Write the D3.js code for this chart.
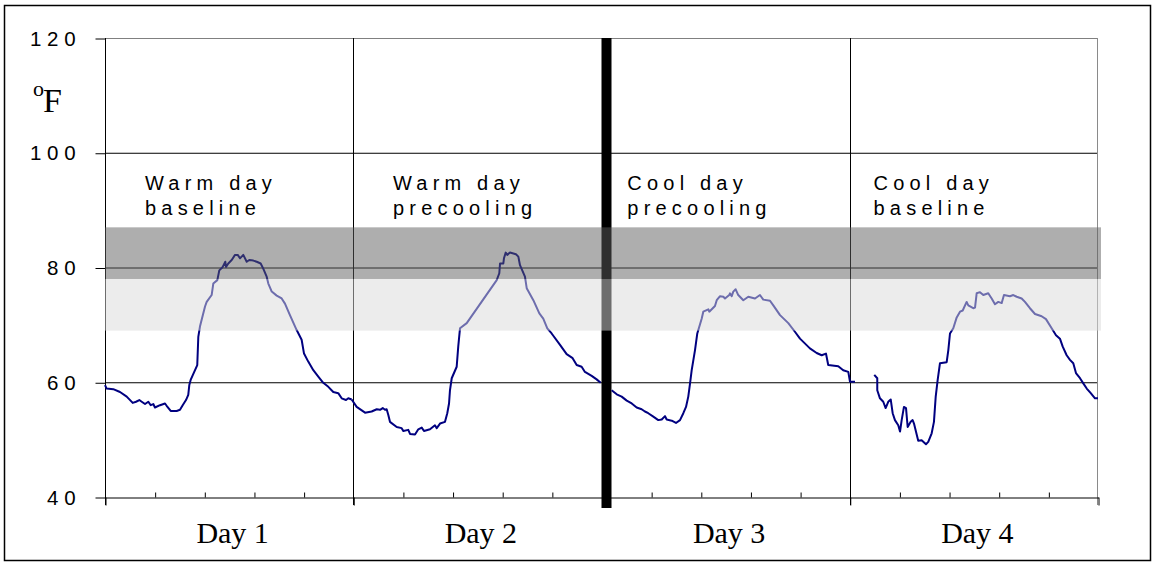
<!DOCTYPE html>
<html>
<head>
<meta charset="utf-8">
<script src="https://cdn.jsdelivr.net/npm/d3@7"></script>
<style>
  body { margin: 0; background: #fff; }
  svg { display: block; }
</style>
</head>
<body>
<script>
// Screen dimensions.
const WIDTH = 1154;
const HEIGHT = 563;

// Plot area
const LEFT = 105, RIGHT = 1098, TOP = 38, BOTTOM = 497;

// Axis values
const yTicks = [40, 60, 80, 100, 120];
const dayLabels = ["Day 1", "Day 2", "Day 3", "Day 4"];
const dayNotes = [["Warm day", "baseline"], ["Warm day", "precooling"], ["Cool day", "precooling"], ["Cool day", "baseline"]];

// Comfort bands (deg F)
const bandDark = [78, 87];
const bandLight = [69, 78];

// Temperature readings: hour since start of day 1, deg F
const day1Hours = [0, 0.16, 0.8, 1.45, 2.1, 2.68, 3.0, 3.32, 3.55, 3.87, 4.19, 4.42, 4.67, 4.83, 5.32, 5.8, 5.96, 6.35, 6.93, 7.25, 7.51, 7.83, 8.05, 8.15, 8.28, 8.92, 9.02, 9.18, 9.67, 9.83, 10.31, 10.47, 10.86, 11.05, 11.38, 11.63, 11.7, 11.92, 12.25, 12.57, 12.83, 13.05, 13.37, 13.7, 13.95, 14.34, 14.67, 15.05, 15.3, 15.63, 15.79, 16.12, 16.6, 17.08, 17.4, 17.88, 18.53, 19.01, 19.24, 19.65, 20.14, 20.62, 21.1, 21.59, 22.07, 22.55, 22.88, 23.3, 23.52, 23.85];
const day1Temps = [59.5, 58.9, 58.8, 58.3, 57.5, 56.4, 56.6, 56.9, 56.6, 56.2, 56.6, 56.0, 56.2, 55.6, 56.0, 56.3, 55.9, 55.0, 55.0, 55.2, 56.0, 56.9, 57.8, 59.5, 60.4, 63.0, 67.9, 69.7, 73.2, 74.0, 75.2, 77.2, 77.8, 79.5, 80.1, 81.0, 80.1, 80.7, 81.3, 82.2, 82.2, 81.6, 82.2, 81.0, 81.3, 81.2, 81.0, 80.7, 79.8, 78.4, 77.2, 75.8, 75.1, 74.6, 73.7, 71.7, 69.1, 67.4, 65.0, 63.6, 62.1, 61.0, 59.9, 59.2, 58.3, 58.1, 57.2, 56.9, 57.2, 57.0];

const day2Hours = [23.85, 24.33, 25.14, 25.78, 26.27, 26.59, 26.85, 27.07, 27.23, 27.39, 27.55, 28.2, 28.68, 28.84, 29.32, 29.49, 29.97, 30.29, 30.62, 30.84, 31.42, 31.9, 32.07, 32.39, 32.87, 33.09, 33.26, 33.35, 33.52, 34.0, 34.15, 34.32, 34.97, 37.87, 38.12, 38.19, 38.51, 38.57, 38.74, 38.89, 39.15, 39.73, 39.96, 40.12, 40.6, 40.77, 41.41, 41.99, 42.37, 42.76, 43.18, 43.99, 44.63, 45.21, 45.6, 46.08, 46.4, 47.05, 47.53, 47.92];
const day2Temps = [57.0, 55.7, 54.7, 54.9, 55.3, 55.2, 55.5, 55.2, 55.3, 54.3, 53.1, 52.2, 52.0, 51.5, 51.7, 51.0, 50.9, 51.8, 52.1, 51.5, 51.8, 52.5, 52.0, 52.8, 53.1, 54.6, 56.3, 58.6, 60.7, 62.7, 66.2, 69.4, 70.3, 77.8, 79.0, 80.7, 80.7, 81.6, 82.6, 82.2, 82.6, 82.3, 81.9, 80.4, 78.4, 76.4, 74.3, 72.0, 71.1, 69.4, 68.5, 66.5, 64.9, 64.2, 63.0, 62.7, 61.8, 61.1, 60.5, 59.9];

const day3Hours = [48.98, 49.47, 49.95, 50.44, 50.92, 51.4, 51.88, 52.2, 52.52, 53.01, 53.49, 53.82, 54.14, 54.3, 54.79, 55.2, 55.59, 55.91, 56.17, 56.39, 56.56, 56.72, 57.04, 57.26, 57.69, 57.84, 58.33, 58.42, 58.97, 59.14, 59.46, 59.78, 59.94, 60.35, 60.42, 60.59, 60.74, 60.97, 61.22, 61.71, 62.19, 62.84, 63.32, 63.64, 64.29, 64.61, 65.26, 66.06, 66.7, 67.19, 68.15, 68.8, 69.29, 69.7, 69.92, 70.89, 71.37, 71.86, 72.02, 72.51];
const day3Temps = [58.6, 57.9, 57.5, 56.8, 56.3, 55.6, 55.3, 54.9, 54.6, 54.0, 53.4, 53.5, 54.1, 53.5, 53.3, 52.9, 53.4, 54.6, 55.7, 57.5, 59.8, 62.1, 65.6, 68.5, 71.1, 72.3, 72.7, 72.3, 73.3, 74.3, 75.0, 74.9, 74.6, 75.2, 75.5, 75.0, 75.8, 76.2, 75.2, 74.3, 74.9, 74.6, 75.2, 74.4, 74.2, 73.4, 71.7, 70.3, 68.8, 67.6, 65.9, 65.1, 64.7, 65.0, 63.0, 62.8, 62.1, 61.8, 60.1, 60.1];

const day4Hours = [74.37, 74.66, 74.66, 74.92, 75.24, 75.47, 75.72, 75.96, 76.15, 76.37, 76.69, 76.86, 77.02, 77.24, 77.44, 77.6, 77.89, 78.08, 78.21, 78.62, 78.95, 79.37, 79.59, 79.92, 80.14, 80.31, 80.5, 80.72, 81.37, 81.53, 81.69, 82.01, 82.34, 82.66, 82.92, 83.3, 83.46, 83.94, 84.11, 84.27, 84.59, 84.91, 85.39, 85.72, 86.04, 86.36, 86.69, 86.91, 87.49, 87.81, 88.14, 88.62, 88.94, 89.42, 89.91, 90.55, 90.97, 91.52, 91.94, 92.32, 92.59, 92.97, 93.29, 93.61, 93.87, 94.26, 94.58, 94.91, 95.3, 95.71, 96.0];
const day4Temps = [61.3, 60.7, 58.6, 57.2, 56.6, 55.5, 56.6, 57.0, 54.6, 53.4, 52.5, 51.4, 53.4, 55.7, 55.5, 52.2, 53.1, 53.4, 52.8, 49.8, 49.9, 49.2, 49.6, 51.1, 53.1, 57.5, 60.4, 63.3, 63.5, 65.6, 68.5, 69.4, 71.3, 72.3, 72.5, 74.0, 73.4, 72.9, 73.0, 75.5, 75.7, 75.2, 75.5, 74.6, 73.6, 74.0, 73.8, 75.2, 75.0, 75.2, 74.9, 74.6, 74.0, 72.9, 71.9, 71.5, 71.0, 69.4, 68.2, 67.6, 66.2, 64.7, 63.9, 63.3, 61.6, 60.7, 59.8, 58.9, 58.1, 57.2, 57.2];

const series = [
  [day1Hours, day1Temps],
  [day2Hours, day2Temps],
  [day3Hours, day3Temps],
  [day4Hours, day4Temps]
];

// Scales
const x = d3.scaleLinear().domain([0, 96]).range([LEFT, RIGHT]);
const y = d3.scaleLinear().domain([40, 120]).range([BOTTOM, TOP]);

const svg = d3.select("body").append("svg").attr("width", WIDTH).attr("height", HEIGHT);

// Outer frame
svg.append("rect")
  .attr("x", 4.5).attr("y", 5.5)
  .attr("width", 1146).attr("height", 555)
  .attr("fill", "none").attr("stroke", "#000").attr("stroke-width", 1.5);

// Horizontal gridlines
svg.append("g").selectAll("line").data(yTicks.filter(d => d > 40)).enter().append("line")
  .attr("x1", LEFT).attr("x2", RIGHT)
  .attr("y1", d => y(d) + 0.5).attr("y2", d => y(d) + 0.5)
  .attr("stroke", d => d === 120 ? "#808080" : "#000")
  .attr("stroke-width", 1);

// Day boundaries (thin) and right frame
svg.append("g").selectAll("line").data([24, 72]).enter().append("line")
  .attr("x1", d => Math.round(x(d)) + 0.5).attr("x2", d => Math.round(x(d)) + 0.5)
  .attr("y1", y(120)).attr("y2", BOTTOM + 8)
  .attr("stroke", "#000");
svg.append("line")
  .attr("x1", Math.round(x(96)) - 0.5).attr("x2", Math.round(x(96)) - 0.5)
  .attr("y1", y(120)).attr("y2", BOTTOM + 8)
  .attr("stroke", "#8a8a8a");

// Y axis
const yAxis = svg.append("g")
  .attr("transform", `translate(${LEFT + 0.5},0.5)`)
  .call(d3.axisLeft(y).tickValues(yTicks).tickSize(10).tickPadding(20));
yAxis.select(".domain").remove();
yAxis.selectAll(".tick line").attr("stroke", "#000");
yAxis.selectAll("text")
  .attr("x", -24)
  .style("font-family", "'Liberation Sans', Arial, sans-serif")
  .style("font-size", "20.5px")
  .style("letter-spacing", "5.8px")
  .attr("fill", "#000");
svg.append("line")
  .attr("x1", LEFT + 0.5).attr("x2", LEFT + 0.5)
  .attr("y1", y(120)).attr("y2", BOTTOM + 8)
  .attr("stroke", "#000");

// X axis: minor ticks inside, day ticks outside
const minorTicks = d3.range(0, 96.01, 4.8).filter(d => d % 24 !== 0);
const xMinor = svg.append("g")
  .attr("transform", `translate(0.5,${BOTTOM + 0.5})`)
  .call(d3.axisBottom(x).tickValues(minorTicks).tickSize(-5).tickSizeOuter(0).tickFormat(""));
xMinor.selectAll("line, path").attr("stroke", "#000");

const xMajor = svg.append("g")
  .attr("transform", `translate(0.5,${BOTTOM + 0.5})`)
  .call(d3.axisBottom(x).tickValues([0, 24, 48, 72, 96]).tickSize(8).tickSizeOuter(0).tickFormat(""));
xMajor.select(".domain").remove();
xMajor.selectAll("line").attr("stroke", "#000");

// Day labels
const xDays = svg.append("g")
  .attr("transform", `translate(0,${BOTTOM})`)
  .call(d3.axisBottom(x).tickValues([12, 36, 60, 84]).tickSize(0).tickPadding(0)
    .tickFormat((d, i) => dayLabels[i]));
xDays.select(".domain").remove();
xDays.selectAll("text")
  .attr("dy", null)
  .attr("y", 46)
  .attr("dx", 3)
  .style("font-family", "'Liberation Serif', 'Times New Roman', serif")
  .style("font-size", "30px")
  .attr("fill", "#000");

// Thick divider between warm and cool days
svg.append("rect")
  .attr("x", x(48)).attr("width", 10)
  .attr("y", y(120)).attr("height", BOTTOM + 11 - y(120))
  .attr("fill", "#000");

// Temperature lines
const line = d3.line().x(d => x(d[0])).y(d => y(d[1]));
svg.append("g").selectAll("path").data(series).enter().append("path")
  .attr("d", s => line(s[0].map((h, i) => [h, s[1][i]])))
  .attr("fill", "none")
  .attr("stroke", "#000080")
  .attr("stroke-width", 2)
  .attr("stroke-linejoin", "round");

// Translucent comfort bands over everything
svg.append("rect")
  .attr("x", x(0)).attr("width", x(96) - x(0) + 3)
  .attr("y", y(bandDark[1])).attr("height", y(bandDark[0]) - y(bandDark[1]))
  .attr("fill", "rgb(93,93,93)").attr("fill-opacity", 0.5);
svg.append("rect")
  .attr("x", x(0)).attr("width", x(96) - x(0) + 3)
  .attr("y", y(bandLight[1])).attr("height", y(bandLight[0]) - y(bandLight[1]))
  .attr("fill", "rgb(218,218,218)").attr("fill-opacity", 0.5);

// Day notes
const noteHours = [3.87, 27.84, 50.5, 74.3];
const notes = svg.append("g")
  .style("font-family", "'Liberation Sans', Arial, sans-serif")
  .style("font-size", "20px")
  .style("letter-spacing", "5.2px");
dayNotes.forEach((lines, i) => {
  lines.forEach((t, j) => {
    notes.append("text")
      .attr("x", x(noteHours[i]))
      .attr("y", 190 + j * 25)
      .text(t);
  });
});

// Unit label
svg.append("text")
  .attr("x", 33).attr("y", 96)
  .style("font-family", "'Liberation Serif', 'Times New Roman', serif")
  .style("font-size", "22px")
  .text("o");
svg.append("text")
  .attr("x", 43).attr("y", 112)
  .style("font-family", "'Liberation Serif', 'Times New Roman', serif")
  .style("font-size", "34px")
  .text("F");
</script>
</body>
</html>
